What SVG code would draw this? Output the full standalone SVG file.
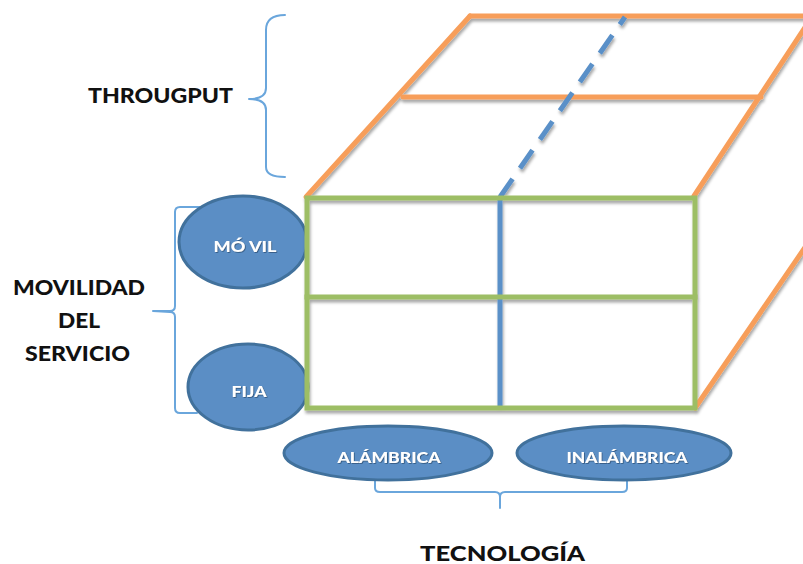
<svg xmlns="http://www.w3.org/2000/svg" width="803" height="564" viewBox="0 0 803 564">
  <defs>
    <filter id="lineShadow" x="-10%" y="-10%" width="120%" height="130%">
      <feDropShadow dx="1" dy="3" stdDeviation="1.4" flood-color="#000" flood-opacity="0.35"/>
    </filter>
    <filter id="textShadow" x="-10%" y="-20%" width="120%" height="140%">
      <feDropShadow dx="0.8" dy="0.8" stdDeviation="0.6" flood-color="#1f3d5c" flood-opacity="0.7"/>
    </filter>
  </defs>
  <style>
    .orange { stroke: #f79e5a; stroke-width: 5; fill: none; stroke-linecap: round; }
    .green  { stroke: #9dbe65; stroke-width: 5; fill: none; stroke-linecap: square; }
    .blue   { stroke: #5a90c8; stroke-width: 5; fill: none; }
    .brace  { stroke: #6aa6dc; stroke-width: 2; fill: none; stroke-linejoin: round; stroke-linecap: round; }
    .oval   { fill: #5b8ec5; stroke: #41719c; stroke-width: 3; }
    .olabel { fill: #ffffff; font-family: "Lato", "Open Sans", sans-serif; font-weight: 900; font-size: 15px; text-anchor: middle; }
    .label  { fill: #111111; font-family: "Lato", "Open Sans", sans-serif; font-weight: 900; font-size: 21px; }
  </style>

  <rect width="803" height="564" fill="#ffffff"/>

  <!-- braces linking axis titles to their categories -->
  <g id="connectors">
    <path class="brace" d="M285,15 C272,15 266,20 266,30 L266,88 C266,95 260,99 249,99 C260,99 266,103 266,110 L266,167 C266,174 272,177 285,177"/>
    <path class="brace" d="M200,207 L180,207 Q175,207 175,212 L175,306 Q175,311 170,311 L153,311 L170,312 Q175,312 175,317 L175,408 Q175,413 180,413 L197,413"/>
    <path class="brace" d="M375,478 L375,488 Q375,492 380,492 L495,492 Q500,492 500,497 L500,508 L500,497 Q500,492 505,492 L622,492 Q627,492 627,488 L627,478"/>
  </g>

  <!-- category ovals -->
  <g id="node-movil">
    <ellipse class="oval" cx="243" cy="242" rx="64" ry="46"/>
    <text class="olabel" x="245" y="252" filter="url(#textShadow)" textLength="63" lengthAdjust="spacingAndGlyphs">MÓ VIL</text>
  </g>
  <g id="node-fija">
    <ellipse class="oval" cx="248" cy="387" rx="60" ry="43"/>
    <text class="olabel" x="249" y="397" filter="url(#textShadow)" textLength="35" lengthAdjust="spacingAndGlyphs">FIJA</text>
  </g>
  <g id="node-alambrica">
    <ellipse class="oval" cx="388" cy="453" rx="104" ry="27"/>
    <text class="olabel" x="389" y="463" filter="url(#textShadow)" textLength="103" lengthAdjust="spacingAndGlyphs">ALÁMBRICA</text>
  </g>
  <g id="node-inalambrica">
    <ellipse class="oval" cx="624" cy="453" rx="107" ry="27"/>
    <text class="olabel" x="627" y="463" filter="url(#textShadow)" textLength="121" lengthAdjust="spacingAndGlyphs">INALÁMBRICA</text>
  </g>

  <!-- cube: top face (throughput), front face (mobility x technology), side edge -->
  <g id="node-cube" filter="url(#lineShadow)">
    <g id="cube-top">
      <line class="orange" x1="306" y1="197" x2="470" y2="16"/>
      <line class="orange" x1="470" y1="16" x2="806" y2="16"/>
      <line class="orange" x1="403" y1="97" x2="761" y2="97"/>
      <line class="orange" x1="694" y1="196" x2="806" y2="26"/>
      <line class="blue" x1="500" y1="197" x2="625" y2="17" stroke-dasharray="22 13"/>
    </g>
    <g id="cube-side">
      <line class="orange" x1="695" y1="408" x2="806" y2="246"/>
    </g>
    <g id="cube-front">
      <line class="blue" x1="500" y1="198" x2="500" y2="408"/>
      <rect class="green" x="307" y="198" width="388" height="210"/>
      <line class="green" x1="307" y1="297" x2="695" y2="297"/>
    </g>
  </g>

  <!-- axis titles -->
  <g id="node-throughput">
    <text class="label" x="88" y="103" textLength="145" lengthAdjust="spacingAndGlyphs">THROUGPUT</text>
  </g>
  <g id="node-movilidad">
    <text class="label" x="13" y="295" textLength="132" lengthAdjust="spacingAndGlyphs">MOVILIDAD</text>
    <text class="label" x="58" y="328" textLength="42" lengthAdjust="spacingAndGlyphs">DEL</text>
    <text class="label" x="25" y="361" textLength="105" lengthAdjust="spacingAndGlyphs">SERVICIO</text>
  </g>
  <g id="node-tecnologia">
    <text class="label" x="420" y="561" textLength="165" lengthAdjust="spacingAndGlyphs">TECNOLOGÍA</text>
  </g>
</svg>
